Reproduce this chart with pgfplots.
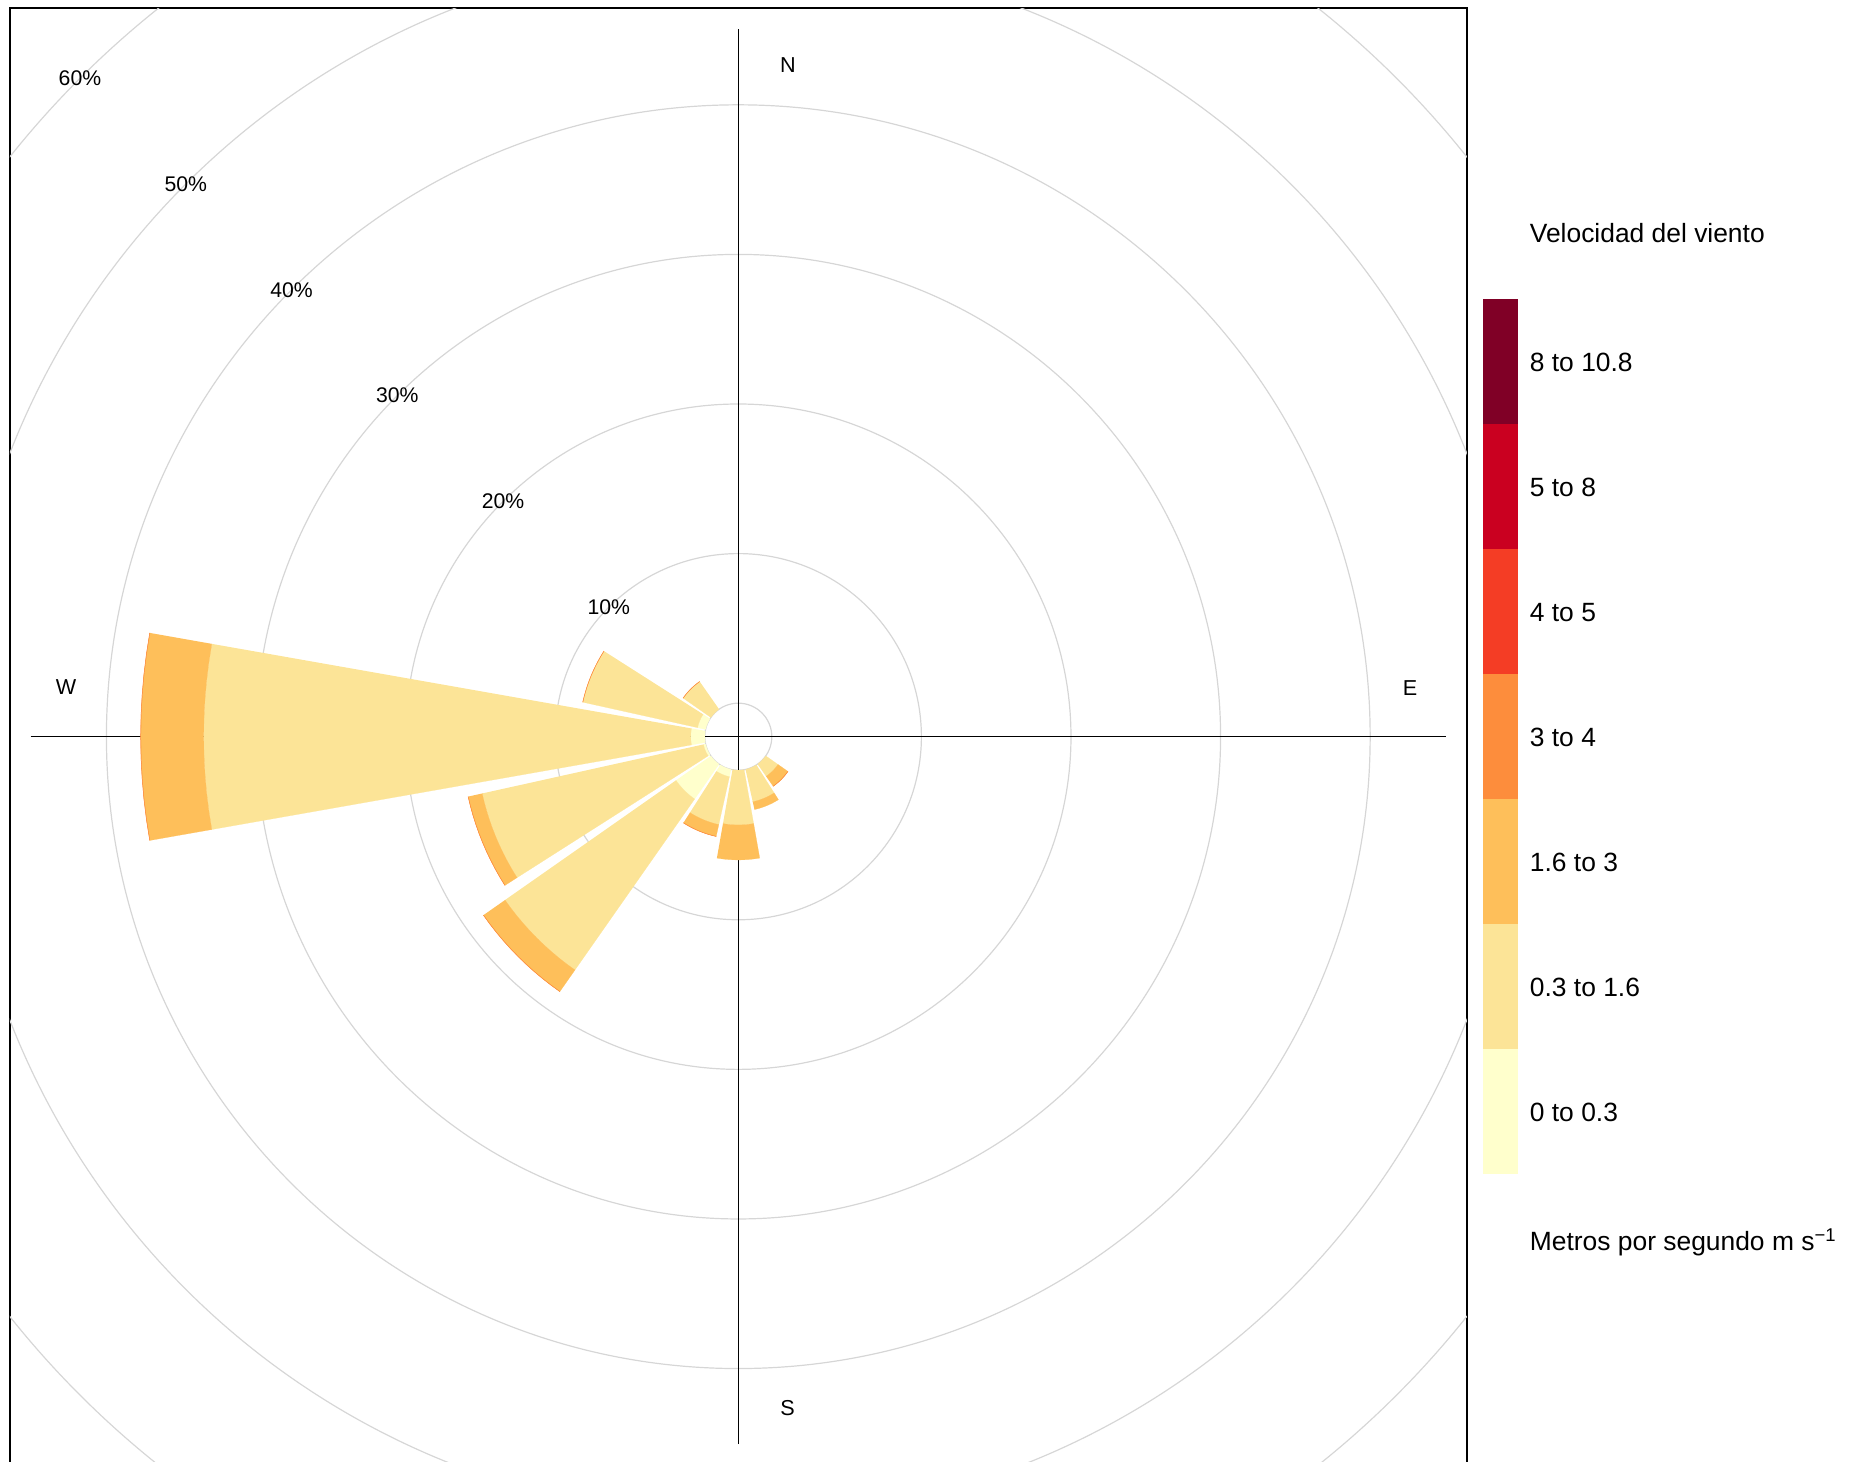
\documentclass[border=0pt]{standalone}
\usepackage{pgfplots}
\pgfplotsset{compat=1.18}
\usepackage{fontspec}
\setmainfont{Liberation Sans}

% speed-bin colours
\definecolor{wsA}{HTML}{FFFFCC}
\definecolor{wsB}{HTML}{FCE497}
\definecolor{wsC}{HTML}{FEBF5A}
\definecolor{wsD}{HTML}{FD8D3C}
\definecolor{wsE}{HTML}{F43D25}
\definecolor{wsF}{HTML}{CA0020}
\definecolor{wsG}{HTML}{800026}
\definecolor{gridgray}{HTML}{D6D6D6}

% radius of the empty hole in the middle, in percent units
\newcommand\roff{2.24}

% one wedge of a bar: compass direction, inner %, outer %, colour
\newcommand{\windseg}[4]{%
  \ifdim#3pt>#2pt
  \pgfmathsetmacro\segin{\roff+#2}%
  \pgfmathsetmacro\segout{\roff+#3}%
  \gdef\segpts{}%
  \foreach \k in {0,...,10}{%
    \pgfmathsetmacro\th{80-#1+2*\k}%
    \xdef\segpts{\segpts(\th,\segout)}%
  }%
  \foreach \k in {10,...,0}{%
    \pgfmathsetmacro\th{80-#1+2*\k}%
    \xdef\segpts{\segpts(\th,\segin)}%
  }%
  \edef\segcmd{\noexpand\addplot[fill=#4,draw=#4,line width=0.1pt,data cs=polar,forget plot] coordinates {\segpts};}%
  \segcmd
  \fi
}

% a stacked bar: direction, then frequency (%) of each speed bin
\newcommand{\windbar}[5]{%
  \pgfmathsetmacro\cA{#2}%
  \pgfmathsetmacro\cB{\cA+#3}%
  \pgfmathsetmacro\cC{\cB+#4}%
  \pgfmathsetmacro\cD{\cC+#5}%
  \windseg{#1}{0}{\cA}{wsA}%
  \windseg{#1}{\cA}{\cB}{wsB}%
  \windseg{#1}{\cB}{\cC}{wsC}%
  \windseg{#1}{\cC}{\cD}{wsD}%
}

\begin{document}
\begin{tikzpicture}
\path[use as bounding box] (0,0) rectangle (924.5pt,731pt);
\begin{axis}[
  at={(369.15pt,362.65pt)}, anchor=center,
  width=728.5pt, height=728.5pt, scale only axis,
  xmin=-48.7, xmax=48.7, ymin=-48.7, ymax=48.7,
  xtick=\empty, ytick=\empty,
  axis line style={line width=0.8pt},
  clip=true,
]
% percentage rings
\pgfplotsinvokeforeach{0,10,20,30,40,50,60,70}{
  \draw[gridgray, line width=0.6pt] (axis cs:0,0) circle[radius=\roff+#1];
}
% compass cross
\draw[line width=0.7pt] (axis cs:0,-47.3) -- (axis cs:0,47.3);
\draw[line width=0.7pt] (axis cs:-47.3,0) -- (axis cs:47.3,0);

%        dir    0-0.3  0.3-1.6  1.6-3  3-4
\windbar{270}  {0.94} {32.56}  {4.20} {0.02}
\windbar{292.5}{0.55} {7.85}   {0}    {0.02}
\windbar{315}  {0}    {2.25}   {0}    {0.02}
\windbar{247.5}{0.15} {15.15}  {0.95} {0.02}
\windbar{225}  {2.85} {13.95}  {1.75} {0.02}
\windbar{202.5}{0.50} {3.28}   {0.80} {0.02}
\windbar{180}  {0}    {3.66}   {2.34} {0}
\windbar{157.5}{0}    {2.22}   {0.53} {0}
\windbar{135}  {0}    {1.00}   {0.80} {0.02}

% ring labels along the north-west diagonal
\pgfplotsinvokeforeach{10,20,30,40,50,60}{
  \node[font=\fontsize{10.6}{12}\selectfont, inner sep=0pt]
    at (axis cs:{-(\roff+#1)*0.7071},{(\roff+#1)*0.7071}) {#1\%};
}
\node[font=\fontsize{10.8}{12}\selectfont, inner sep=0pt] at (axis cs:3.32,44.9) {N};
\node[font=\fontsize{10.8}{12}\selectfont, inner sep=0pt] at (axis cs:44.9,3.24) {E};
\node[font=\fontsize{10.8}{12}\selectfont, inner sep=0pt] at (axis cs:3.3,-44.85) {S};
\node[font=\fontsize{10.8}{12}\selectfont, inner sep=0pt] at (axis cs:-44.94,3.29) {W};
\end{axis}

% speed key
\foreach \c [count=\i from 0] in {wsA,wsB,wsC,wsD,wsE,wsF,wsG}{
  \fill[\c] (741.5pt,{143.75pt+\i*62.5pt}) rectangle ++(17.5pt,62.5pt);
}
\begin{scope}[every node/.style={anchor=base west, inner sep=0pt, font=\fontsize{13.2}{15}\selectfont}]
\node at (764.75pt,609.8pt) {Velocidad del viento};
\node at (764.75pt,{170.27pt+6*62.5pt}) {8 to 10.8};
\node at (764.75pt,{170.27pt+5*62.5pt}) {5 to 8};
\node at (764.75pt,{170.27pt+4*62.5pt}) {4 to 5};
\node at (764.75pt,{170.27pt+3*62.5pt}) {3 to 4};
\node at (764.75pt,{170.27pt+2*62.5pt}) {1.6 to 3};
\node at (764.75pt,{170.27pt+1*62.5pt}) {0.3 to 1.6};
\node at (764.75pt,{170.27pt+0*62.5pt}) {0 to 0.3};
\node at (764.75pt,105.8pt) {Metros por segundo m s\textsuperscript{−1}};
\end{scope}
\end{tikzpicture}
\end{document}
